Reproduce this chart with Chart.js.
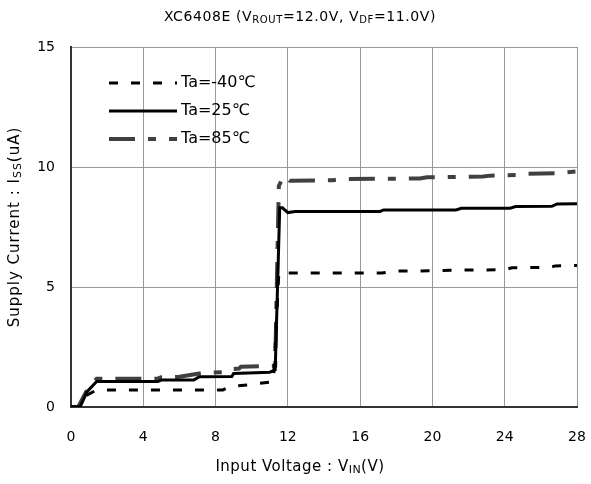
<!DOCTYPE html>
<html>
<head>
<meta charset="utf-8">
<script src="https://cdn.jsdelivr.net/npm/chart.js@4"></script>
<style>
  html, body { margin: 0; padding: 0; background: #fff; overflow: hidden; }
  #box { width: 591px; height: 484px; position: relative; }
  canvas { display: block; }
</style>
</head>
<body>
<div id="box"><canvas id="lineChart"></canvas></div>
<script>
// Ta=-40C
var vinM40 = [0, 0.5, 0.9, 1.42, 8.4, 8.8, 10.0, 11.2, 11.5, 17.2, 17.8, 20.5, 21.0, 24.0, 24.4, 26.5, 26.8, 28];
var issM40 = [0, 0, 0.5, 0.71, 0.71, 0.85, 0.94, 1.06, 5.58, 5.58, 5.66, 5.68, 5.70, 5.72, 5.80, 5.82, 5.88, 5.9];

// Ta=25C
var vin25 = [0, 0.5, 0.9, 1.42, 4.8, 5.0, 6.8, 7.1, 8.9, 9.0, 11.0, 11.3, 11.55, 11.7, 12.0, 12.4, 17.1, 17.3, 21.3, 21.6, 24.3, 24.6, 26.6, 26.9, 28];
var iss25 = [0, 0, 0.65, 1.06, 1.06, 1.12, 1.13, 1.26, 1.27, 1.40, 1.45, 1.55, 8.3, 8.3, 8.1, 8.15, 8.15, 8.21, 8.21, 8.28, 8.28, 8.35, 8.36, 8.46, 8.47];

// Ta=85C
var vin85 = [0, 0.4, 0.95, 1.42, 4.8, 5.0, 6.0, 7.3, 8.4, 8.6, 9.3, 9.4, 11.3, 11.5, 11.75, 12.1, 14.5, 15.0, 19.3, 19.7, 22.8, 23.2, 25.0, 25.3, 27.0, 28];
var iss85 = [0, 0, 0.8, 1.18, 1.18, 1.24, 1.26, 1.42, 1.45, 1.57, 1.60, 1.68, 1.72, 9.2, 9.62, 9.43, 9.45, 9.50, 9.52, 9.57, 9.60, 9.64, 9.67, 9.72, 9.74, 9.82];

var seriesLabels = ['Ta=-40\u2103', 'Ta=25\u2103', 'Ta=85\u2103'];
var xTicks = [0, 4, 8, 12, 16, 20, 24, 28];
var yTicks = [0, 5, 10, 15];

var FONT = '"DejaVu Sans", "Noto Sans CJK JP", sans-serif';

function pts(xs, ys) {
  return xs.map(function (v, i) { return { x: v, y: ys[i] }; });
}

// draw text with subscript parts, centred on x
function drawRich(ctx, parts, x, y, size, spacing) {
  var total = 0;
  var sub = Math.round(size * 0.72);
  ctx.letterSpacing = spacing + 'px';
  parts.forEach(function (p) {
    ctx.font = (p.sub ? sub : size) + 'px ' + FONT;
    p.w = ctx.measureText(p.t).width;
    total += p.w;
  });
  var cx = x - total / 2;
  ctx.textAlign = 'left';
  ctx.textBaseline = 'middle';
  parts.forEach(function (p) {
    ctx.font = (p.sub ? sub : size) + 'px ' + FONT;
    ctx.fillText(p.t, cx, p.sub ? y + 3 : y);
    cx += p.w;
  });
  ctx.letterSpacing = '0px';
}

var textPlugin = {
  id: 'texts',
  afterDraw: function (chart) {
    var ctx = chart.ctx;
    var area = chart.chartArea;
    ctx.save();
    ctx.fillStyle = '#000';
    drawRich(ctx, [{ t: 'XC6408E (V' }, { t: 'ROUT', sub: true }, { t: '=12.0V, V' }, { t: 'DF', sub: true }, { t: '=11.0V)' }], 300, 17, 14, 0.6);
    drawRich(ctx, [{ t: 'Input Voltage : V' }, { t: 'IN', sub: true }, { t: '(V)' }], 300, 467, 15, 0.5);
    ctx.translate(15, (area.top + area.bottom) / 2);
    ctx.rotate(-Math.PI / 2);
    drawRich(ctx, [{ t: 'Supply Current : I' }, { t: 'SS', sub: true }, { t: '(uA)' }], 0, 0, 15, 1);
    ctx.restore();

    // legend
    ctx.save();
    chart.data.datasets.forEach(function (ds, i) {
      var y = 83 + i * 28;
      ctx.beginPath();
      ctx.strokeStyle = ds.borderColor;
      ctx.lineWidth = ds.borderWidth;
      ctx.setLineDash(ds.borderDash || []);
      ctx.moveTo(109, y);
      ctx.lineTo(177, y);
      ctx.stroke();
      ctx.setLineDash([]);
      ctx.fillStyle = '#000';
      ctx.font = '16px ' + FONT;
      ctx.textAlign = 'left';
      ctx.textBaseline = 'middle';
      ctx.fillText(ds.label, 181, y);
    });
    ctx.restore();
  }
};

var lineConfig = {
  type: 'line',
  data: {
    datasets: [{
      label: seriesLabels[0],
      data: pts(vinM40, issM40),
      borderColor: '#000',
      borderWidth: 3,
      borderDash: [9, 13]
    }, {
      label: seriesLabels[1],
      data: pts(vin25, iss25),
      borderColor: '#000',
      borderWidth: 3
    }, {
      label: seriesLabels[2],
      data: pts(vin85, iss85),
      borderColor: '#404040',
      borderWidth: 4,
      borderDash: [26, 13, 8, 13]
    }]
  },
  options: {
    responsive: true,
    maintainAspectRatio: false,
    animation: false,
    layout: { padding: { top: 47, right: 14, left: 0, bottom: 0 } },
    elements: { point: { radius: 0 }, line: { tension: 0 } },
    plugins: { legend: { display: false }, tooltip: { enabled: false } },
    scales: {
      x: {
        type: 'linear',
        min: 0,
        max: 28,
        afterBuildTicks: function (s) { s.ticks = xTicks.map(function (v) { return { value: v }; }); },
        afterFit: function (s) { s.height = 77; s.paddingLeft = 0; s.paddingRight = 0; },
        grid: { color: '#999', drawTicks: false },
        border: { color: '#333', width: 2 },
        ticks: { color: '#000', padding: 22, font: { size: 14, family: FONT } }
      },
      y: {
        min: 0,
        max: 15,
        afterBuildTicks: function (s) { s.ticks = yTicks.map(function (v) { return { value: v }; }); },
        afterFit: function (s) { s.width = 71; s.paddingTop = 0; s.paddingBottom = 0; },
        grid: { color: '#999', drawTicks: false },
        border: { color: '#333', width: 2 },
        ticks: { color: '#000', padding: 16, font: { size: 14, family: FONT } }
      }
    }
  },
  plugins: [textPlugin]
};

var lineChart = new Chart(document.getElementById('lineChart'), lineConfig);
</script>
</body>
</html>
